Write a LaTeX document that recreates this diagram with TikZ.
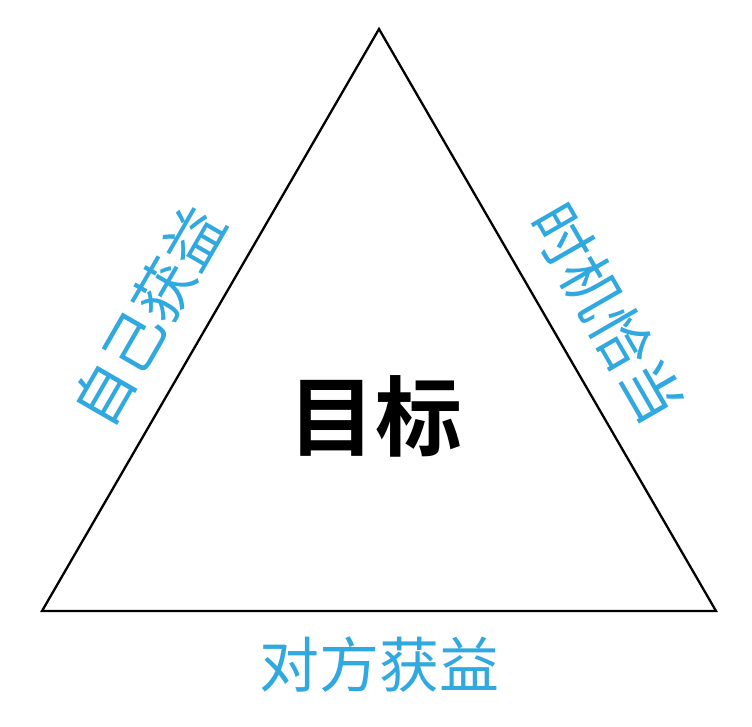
\documentclass[tikz,border=0pt]{standalone}
\usepackage{fontspec}
\newfontfamily\cjk{Noto Sans CJK SC}
\newfontfamily\cjkbold{Noto Sans CJK SC Bold}
\definecolor{labelblue}{RGB}{48,168,224}
\begin{document}
\begin{tikzpicture}[x=1pt,y=-1pt,
  side/.style={text=labelblue,font=\cjk\fontsize{60}{60}\selectfont,inner sep=0pt},
  center/.style={text=black,font=\cjkbold\fontsize{87}{87}\selectfont,inner sep=0pt}]
\path[use as bounding box,fill=white] (0,0) rectangle (752,726);
\coordinate (A) at (379,29);
\coordinate (B) at (42,611);
\coordinate (C) at (716,611);
\draw[line width=2.3pt,line join=miter] (A) -- (B) -- (C) -- cycle;
\node[center] (goal) at (375,416) {目标};
\node[side,rotate=60] (self) at (149,316) {自己获益};
\node[side,rotate=-60] (time) at (607,313) {时机恰当};
\node[side] (other) at (379,665) {对方获益};
\end{tikzpicture}
\end{document}
